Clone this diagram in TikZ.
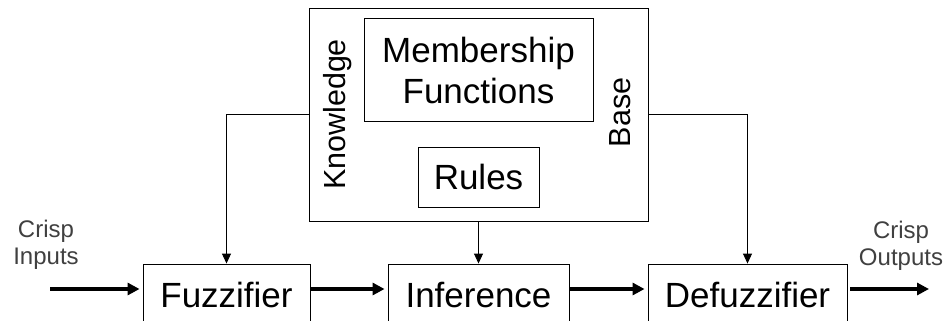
\documentclass[tikz,border=0pt]{standalone}
\usepackage{fontspec}
\setmainfont{Liberation Sans}
\usetikzlibrary{positioning,arrows.meta,calc}

\begin{document}
\begin{tikzpicture}[x=1pt,y=-1pt,line width=0.9pt,
  b/.style={draw,inner sep=0pt,align=center,font=\fontsize{35}{41}\selectfont},
  lbl/.style={rotate=90,anchor=base,inner sep=0pt,font=\fontsize{30.5}{36}\selectfont},
  io/.style={align=center,inner sep=0pt,text=black!75,font=\fontsize{24}{27}\selectfont},
  flow/.style={line width=3.4pt,-{Triangle[length=12pt,width=12pt]},shorten >=3pt},
  feed/.style={-{Triangle[length=10pt,width=9pt]}}]
  \clip (0,0) rectangle (943,321);
  % knowledge base
  \node[draw,minimum width=339pt,minimum height=213pt] (kb) at (478.5,114.5) {};
  \node[b,minimum width=229pt,minimum height=103pt] (mf) at (478.5,70) {Membership\\Functions};
  \node[b,minimum width=121pt,minimum height=60pt] (ru) at (478.5,177) {Rules};
  \node[lbl] (kn) at (345,114.5) {Knowledge};
  \node[lbl] (ba) at (630,112.5) {Base};
  % processing chain
  \node[b,minimum width=167pt,minimum height=62pt] (fz) at (226.5,295) {Fuzzifier};
  \node[b,minimum width=181pt,minimum height=62pt] (inf) at (478.5,295) {Inference};
  \node[b,minimum width=199pt,minimum height=62pt] (dfz) at (747.5,295) {Defuzzifier};
  \node[io] (ci) at (46,245) {Crisp\\Inputs};
  \node[io] (co) at (901,246) {Crisp\\Outputs};
  \coordinate (in) at (50,289);
  \coordinate (out) at (929,289);
  \draw[flow] (in) -- (in -| fz.west);
  \draw[flow] (fz.east |- in) -- (in -| inf.west);
  \draw[flow] (inf.east |- in) -- (in -| dfz.west);
  \draw[flow,shorten <=3pt,shorten >=0pt] (dfz.east |- out) -- (out);
  \draw[feed] (kb.west) -| (fz.north);
  \draw[feed] (kb.south) -- (inf.north);
  \draw[feed] (kb.east) -| (dfz.north);
\end{tikzpicture}
\end{document}
